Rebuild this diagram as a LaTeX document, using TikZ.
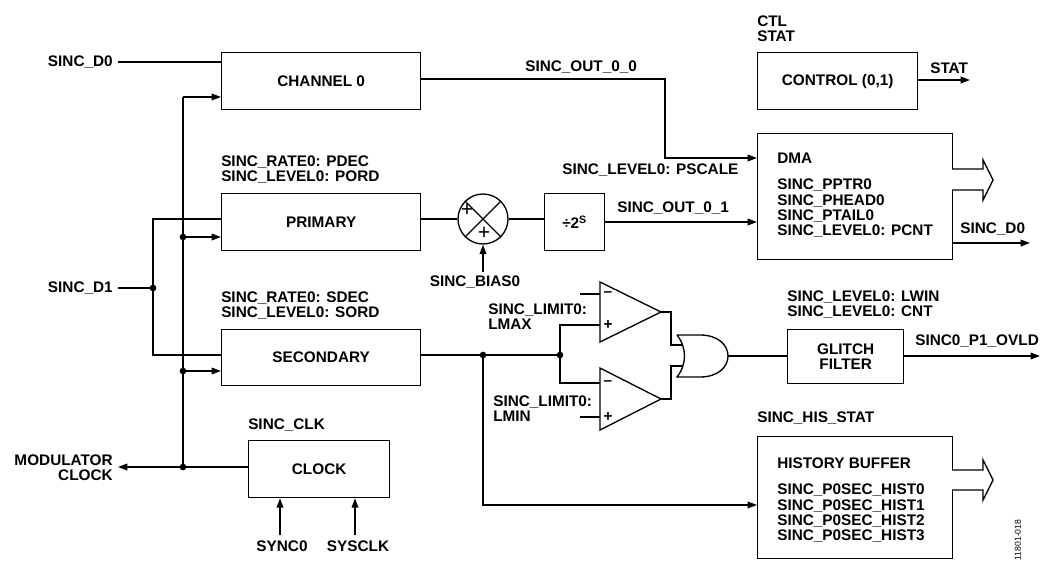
\documentclass[tikz,border=0pt]{standalone}
\usepackage{fontspec}
\setmainfont{Liberation Sans}
\usetikzlibrary{arrows.meta}
\begin{document}
\begin{tikzpicture}[x=0.75pt,y=-0.75pt,
  every node/.style={font=\fontsize{11.5}{11.3}\selectfont\bfseries, inner sep=0pt},
  box/.style={draw, line width=1pt, anchor=north west, align=center},
  lbl/.style={anchor=west, align=left},
  wire/.style={line width=1pt},
  arr/.style={line width=1pt, -{Triangle[length=7pt,width=5pt]}},
  dot/.style={circle, fill, minimum size=5pt, inner sep=0pt}]
\useasboundingbox (0,0) rectangle (1056,567);
% boxes
\node[box, minimum width=149.25pt, minimum height=42.75pt] (ch0) at (221,52) {CHANNEL 0};
\node[box, minimum width=120pt, minimum height=42.75pt] (ctl) at (757,52) {CONTROL (0,1)};
\node[box, minimum width=146.25pt, minimum height=94.5pt] (dma) at (757,133) {};
\node[box, minimum width=149.25pt, minimum height=42.75pt] (pri) at (221,193) {PRIMARY};
\node[box, minimum width=45pt, minimum height=42.75pt] (div) at (544,193) {\char"00F7 2\textsuperscript{S}};
\node[box, minimum width=149.25pt, minimum height=42pt] (sec) at (221,329) {SECONDARY};
\node[box, minimum width=87pt, minimum height=40.5pt] (gl) at (787,329) {GLITCH\\FILTER};
\node[box, minimum width=146.25pt, minimum height=91.5pt] (hb) at (757,436) {};
\node[box, minimum width=105.75pt, minimum height=42.75pt] (clk) at (248,440) {CLOCK};
% box texts
\node[lbl] (dmat) at (777,158) {DMA};
\node[lbl, anchor=north west] (dmar) at (777,179) {SINC\_PPTR0\\SINC\_PHEAD0\\SINC\_PTAIL0\\SINC\_LEVEL0: PCNT};
\node[lbl] (hbt) at (777,463) {HISTORY BUFFER};
\node[lbl, anchor=north west] (hbr) at (777,484) {SINC\_P0SEC\_HIST0\\SINC\_P0SEC\_HIST1\\SINC\_P0SEC\_HIST2\\SINC\_P0SEC\_HIST3};
% labels
\node[anchor=east] (d0) at (113,62) {SINC\_D0};
\node[anchor=east] (d1) at (113,288) {SINC\_D1};
\node[anchor=east, align=right] (mod) at (113,468) {MODULATOR\\CLOCK};
\node[lbl] (ctlstat) at (757,29) {CTL\\STAT};
\node[lbl] (stat) at (930,68) {STAT};
\node[lbl] (o00) at (525,67) {SINC\_OUT\_0\_0};
\node[lbl] (psc) at (562,170) {SINC\_LEVEL0: PSCALE};
\node[lbl] (pdec) at (221,170) {SINC\_RATE0: PDEC\\SINC\_LEVEL0: PORD};
\node[lbl] (sdec) at (221,306) {SINC\_RATE0: SDEC\\SINC\_LEVEL0: SORD};
\node[lbl] (o01) at (617,208) {SINC\_OUT\_0\_1};
\node[anchor=north] (bias) at (475,276) {SINC\_BIAS0};
\node[lbl] (sd0o) at (960,229) {SINC\_D0};
\node[lbl] (lmax) at (488,317) {SINC\_LIMIT0:\\LMAX};
\node[lbl] (lmin) at (493,409) {SINC\_LIMIT0:\\LMIN};
\node[lbl] (lwin) at (787,305) {SINC\_LEVEL0: LWIN\\SINC\_LEVEL0: CNT};
\node[lbl] (ovld) at (915,341) {SINC0\_P1\_OVLD};
\node[lbl] (his) at (757,418) {SINC\_HIS\_STAT};
\node[lbl] (sclk) at (248,425) {SINC\_CLK};
\node[anchor=north] (sync) at (282,541) {SYNC0};
\node[anchor=north] (sysclk) at (358,541) {SYSCLK};
\node[rotate=90, font=\fontsize{6.5}{7}\selectfont] (fig) at (1018,540) {11801-018};
% adder
\node[draw, circle, line width=1pt, minimum size=37.5pt] (add) at (483,219) {};
\draw[wire] (add.north west) -- (add.south east) (add.north east) -- (add.south west);
\node[font=\fontsize{16}{16}\selectfont] (p1) at (467,210) {+};
\node[font=\fontsize{16}{16}\selectfont] (p2) at (484,233) {+};
% wires top
\draw[wire] (118,62) -- (ch0.west |- 0,62);
\coordinate (cA) at (183,97);
\coordinate (cB) at (183,237);
\coordinate (cC) at (183,371);
\coordinate (cD) at (183,467);
\draw[wire] (cA) -- (cD);
\draw[arr] (cA) -- (ch0.west |- cA);
\draw[arr] (cB) -- (pri.west |- cB);
\draw[arr] (cC) -- (sec.west |- cC);
\node[dot] (j1) at (cB) {}; \node[dot] (j2) at (cC) {}; \node[dot] (j3) at (cD) {};
\draw[arr] (clk.west |- cD) -- (118,467);
\draw[wire] (118,288) -- (153,288);
\node[dot] (j4) at (153,288) {};
\draw[wire] (pri.west |- 0,219) -- (153,219) -- (153,355) -- (sec.west |- 0,355);
\draw[arr] (ch0.east |- 0,79) -- (665,79) -- (665,158) -- (dma.west |- 0,158);
\draw[arr] (ctl.east |- 0,80) -- (970,80);
\draw[wire] (pri.east |- add) -- (add.west);
\draw[wire] (add.east) -- (div.west |- add);
\draw[arr] (div.east |- 0,222) -- (dma.west |- 0,222);
\draw[arr] (483,272) -- (add.south);
\draw[arr] (dma.east |- 0,243) -- (1030,243);
% fat arrows
\draw[line width=1pt, fill=white] (952,169) -- (983,169) -- (983,160) -- (993,180) -- (983,200) -- (983,190) -- (952,190);
\draw[line width=1pt, fill=white] (952,470) -- (983,470) -- (983,460) -- (993,480) -- (983,500) -- (983,490) -- (952,490);
% secondary out
\draw[wire] (sec.east |- 0,355) -- (560,355);
\node[dot] (j5) at (483,355) {}; \node[dot] (j6) at (560,355) {};
\draw[arr] (483,355) -- (483,505) -- (hb.west |- 0,505);
% comparators
\draw[line width=1pt] (600,282) -- (661,312) -- (600,342) -- cycle;
\draw[line width=1pt] (600,368) -- (661,399) -- (600,430) -- cycle;
\node (m1) at (608,294) {\textendash}; \node (pl1) at (608,325) {+};
\node (m2) at (608,383) {\textendash}; \node (pl2) at (608,417) {+};
\draw[wire] (580,294) -- (600,294);
\draw[wire] (580,417) -- (600,417);
\draw[wire] (600,325) -- (560,325) -- (560,383) -- (600,383);
% or gate
\draw[line width=1pt] (677,335) -- (700,335) .. controls (718,335) and (728,345) .. (728,356) .. controls (728,367) and (718,377) .. (700,377) -- (677,377) .. controls (687,364) and (687,348) .. (677,335);
\draw[wire] (661,312) -- (671,312) -- (671,345) -- (683,345);
\draw[wire] (661,399) -- (671,399) -- (671,366) -- (683,366);
\draw[wire] (728,356) -- (gl.west |- 0,356);
\draw[arr] (gl.east |- 0,356) -- (1040,356);
\draw[arr] (280,535) -- (clk.south -| 280,0);
\draw[arr] (355,535) -- (clk.south -| 355,0);
\end{tikzpicture}
\end{document}
